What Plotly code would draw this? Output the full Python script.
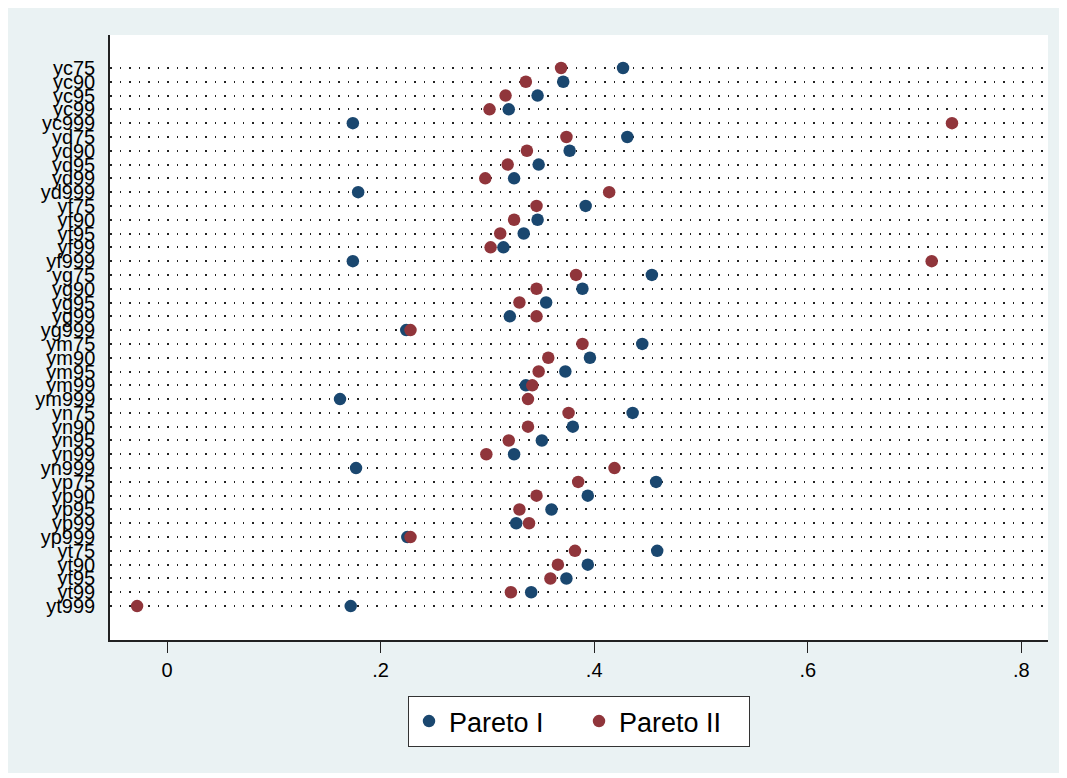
import plotly.graph_objects as go

categories = ["yc75", "yc90", "yc95", "yc99", "yc999",
              "yd75", "yd90", "yd95", "yd99", "yd999",
              "yf75", "yf90", "yf95", "yf99", "yf999",
              "yg75", "yg90", "yg95", "yg99", "yg999",
              "ym75", "ym90", "ym95", "ym99", "ym999",
              "yn75", "yn90", "yn95", "yn99", "yn999",
              "yp75", "yp90", "yp95", "yp99", "yp999",
              "yt75", "yt90", "yt95", "yt99", "yt999"]

pareto_1 = [0.427, 0.371, 0.347, 0.320, 0.174,
            0.431, 0.377, 0.348, 0.325, 0.179,
            0.392, 0.347, 0.334, 0.315, 0.174,
            0.454, 0.389, 0.355, 0.321, 0.224,
            0.445, 0.396, 0.373, 0.336, 0.162,
            0.436, 0.380, 0.351, 0.325, 0.177,
            0.458, 0.394, 0.360, 0.327, 0.225,
            0.459, 0.394, 0.374, 0.341, 0.172]

pareto_2 = [0.369, 0.336, 0.317, 0.302, 0.735,
            0.374, 0.337, 0.319, 0.298, 0.414,
            0.346, 0.325, 0.312, 0.303, 0.716,
            0.383, 0.346, 0.330, 0.346, 0.228,
            0.389, 0.357, 0.348, 0.342, 0.338,
            0.376, 0.338, 0.320, 0.299, 0.419,
            0.385, 0.346, 0.330, 0.339, 0.228,
            0.382, 0.366, 0.359, 0.322, -0.028]

tick_vals = [0, 0.2, 0.4, 0.6, 0.8]
tick_text = ["0", ".2", ".4", ".6", ".8"]

NAVY = "#1a476f"
MAROON = "#90353b"
BG = "#eaf2f3"
FONT = "Liberation Sans, Arial, sans-serif"

fig = go.Figure()
fig.add_trace(go.Scatter(x=pareto_1, y=categories, mode="markers", name="Pareto I",
                         marker=dict(color=NAVY, size=12.5, line=dict(width=0))))
fig.add_trace(go.Scatter(x=pareto_2, y=categories, mode="markers", name="Pareto II",
                         marker=dict(color=MAROON, size=12.5, line=dict(width=0))))

# page has an 8px body margin: reference pixel coords minus 8
OFF = 8
L, R, T, B = 110 - OFF, 1048 - OFF, 35 - OFF, 640 - OFF
W, H = 1067 - OFF, 778 - OFF
pw, ph = R - L, B - T

def px(xp):
    return (xp - OFF - L) / pw

def py(yp):
    return (B - (yp - OFF)) / ph

fig.add_shape(type="rect", xref="paper", yref="paper", layer="below",
              x0=px(5), x1=px(1062), y0=py(773), y1=py(6),
              fillcolor=BG, line=dict(width=0))
fig.add_shape(type="rect", xref="paper", yref="paper", layer="below",
              x0=0, x1=1, y0=0, y1=1,
              fillcolor="white", line=dict(width=0))

fig.update_layout(
    width=W, height=H,
    margin=dict(l=L, r=W - R, t=T, b=H - B),
    paper_bgcolor="white", plot_bgcolor="white",
    font=dict(family=FONT, color="black"),
    showlegend=True,
    legend=dict(orientation="h", x=0.5, xanchor="center", y=py(696), yanchor="top",
                bgcolor="white", bordercolor="#333333", borderwidth=1,
                font=dict(size=27, family=FONT), itemsizing="trace", itemwidth=30,
                entrywidth=125, entrywidthmode="pixels"),
)

fig.update_xaxes(range=[(110 - 167) / 1068, (1048 - 167) / 1068],
                 tickvals=tick_vals, ticktext=tick_text,
                 ticks="outside", ticklen=11, tickwidth=1.3, tickcolor="#222",
                 showline=True, linecolor="#222", linewidth=1.5,
                 showgrid=False, zeroline=False,
                 tickfont=dict(size=20, family=FONT))

fig.update_yaxes(type="category", categoryorder="array", categoryarray=categories,
                 tickmode="array", tickvals=categories, ticktext=categories,
                 range=[39 + 2.46, -2.39],
                 showline=True, linecolor="#222", linewidth=1.5,
                 ticks="", ticklabelstandoff=9,
                 showgrid=True, gridcolor="#222", gridwidth=1.5, griddash="1.5px,8px",
                 zeroline=False,
                 tickfont=dict(size=20, family=FONT))

fig.write_html("out.html")
